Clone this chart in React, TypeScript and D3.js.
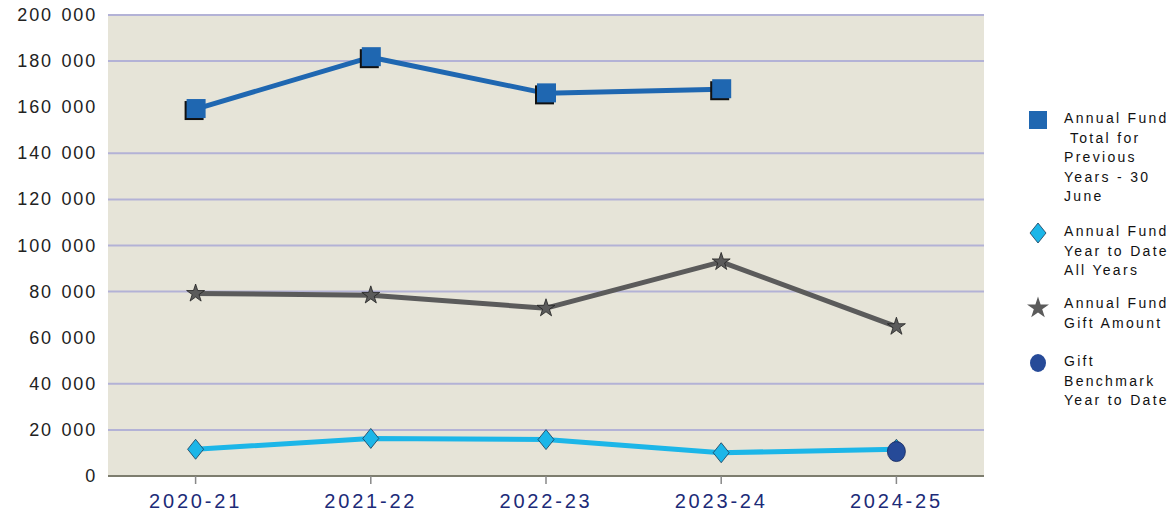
import React, { useEffect, useRef } from "react";
import * as d3 from "d3";

const years = ["2020-21", "2021-22", "2022-23", "2023-24", "2024-25"];
const totalPrevYears = [159200, 181700, 166000, 167800, null];
const ytdAllYears = [11600, 16300, 15800, 10100, 11600];
const giftAmount = [79200, 78400, 72800, 92900, 64800];
const giftBenchmark = [null, null, null, null, 10600];
const yTicks = [0, 20000, 40000, 60000, 80000, 100000, 120000, 140000, 160000, 180000, 200000];
const hiddenGrid = [60000, 160000];

const legendItems = [
  { key: "sq", color: "#1f67b1", lines: ["Annual Fund", " Total for", "Previous", "Years - 30", "June"] },
  { key: "di", color: "#1cb6e8", lines: ["Annual Fund", "Year to Date", "All Years"] },
  { key: "st", color: "#5b5b5b", lines: ["Annual Fund", "Gift Amount"] },
  { key: "ci", color: "#264a98", lines: ["Gift", "Benchmark", "Year to Date"] },
];

const W = 1172;
const H = 512;
const margin = { top: 15, right: 188, bottom: 36, left: 108 };

export default function App() {
  const ref = useRef<SVGSVGElement>(null);

  useEffect(() => {
    const svg = d3.select(ref.current);
    svg.selectAll("*").remove();

    const x = d3.scaleBand().domain(years).range([margin.left, W - margin.right]);
    const y = d3.scaleLinear().domain([0, 200000]).range([H - margin.bottom, margin.top]);
    const cx = (d: string) => (x(d) as number) + x.bandwidth() / 2;

    // plot background
    svg.append("rect")
      .attr("x", margin.left).attr("y", margin.top)
      .attr("width", W - margin.left - margin.right)
      .attr("height", y(0) - margin.top)
      .attr("fill", "#e6e4d8");

    // grid
    svg.append("g").selectAll("line")
      .data(yTicks.filter(t => t > 0 && !hiddenGrid.includes(t)))
      .join("line")
      .attr("x1", margin.left).attr("x2", W - margin.right)
      .attr("y1", d => y(d)).attr("y2", d => y(d))
      .attr("stroke", "#b3b2d6").attr("stroke-width", 2);

    // y labels
    svg.append("g").selectAll("text")
      .data(yTicks)
      .join("text")
      .attr("x", 97).attr("y", d => y(d))
      .attr("text-anchor", "end").attr("dominant-baseline", "central")
      .attr("font-family", "Liberation Sans, Arial, sans-serif")
      .attr("font-size", 18).attr("fill", "#222")
      .attr("letter-spacing", 1.8)
      .attr("word-spacing", 2)
      .text(d => d3.format(",")(d).replace(/,/g, " "));

    // x axis
    svg.append("line")
      .attr("x1", margin.left).attr("x2", W - margin.right)
      .attr("y1", y(0)).attr("y2", y(0))
      .attr("stroke", "#7d7d6e").attr("stroke-width", 2);
    svg.append("g").selectAll("line")
      .data(years).join("line")
      .attr("x1", cx).attr("x2", cx)
      .attr("y1", y(0)).attr("y2", y(0) + 8)
      .attr("stroke", "#888").attr("stroke-width", 1.5);
    svg.append("g").selectAll("text")
      .data(years).join("text")
      .attr("x", cx).attr("y", 508)
      .attr("text-anchor", "middle")
      .attr("font-family", "Liberation Sans, Arial, sans-serif")
      .attr("font-size", 20).attr("fill", "#1c2b78")
      .attr("letter-spacing", 2.8)
      .text(d => d);

    const line = d3.line<number | null>()
      .defined(d => d != null)
      .x((_, i) => cx(years[i]))
      .y(d => y(d as number));

    const drawLine = (vals: (number | null)[], color: string, w: number) =>
      svg.append("path").datum(vals).attr("d", line)
        .attr("fill", "none").attr("stroke", color)
        .attr("stroke-width", w).attr("stroke-linejoin", "round");

    const pts = (vals: (number | null)[]) =>
      vals.map((v, i) => ({ v, x: cx(years[i]) })).filter(p => p.v != null) as { v: number; x: number }[];

    // markers
    const square = (g: any, px: number, py: number, color: string) => {
      g.append("rect").attr("x", px - 11).attr("y", py - 8).attr("width", 19).attr("height", 19).attr("fill", "#111");
      g.append("rect").attr("x", px - 9).attr("y", py - 10).attr("width", 19).attr("height", 19).attr("fill", color);
    };
    const diamond = (g: any, px: number, py: number, color: string) => {
      g.append("path")
        .attr("d", `M${px},${py - 10}L${px + 8},${py}L${px},${py + 10}L${px - 8},${py}Z`)
        .attr("fill", color).attr("stroke", "#1a3a55").attr("stroke-width", 0.8);
    };
    const star = (g: any, px: number, py: number, color: string) => {
      g.append("path")
        .attr("d", d3.symbol().type(d3.symbolStar).size(100)())
        .attr("transform", `translate(${px},${py})`)
        .attr("fill", color).attr("stroke", "#222").attr("stroke-width", 0.8);
    };
    const circle = (g: any, px: number, py: number, color: string) => {
      g.append("ellipse").attr("cx", px).attr("cy", py).attr("rx", 9).attr("ry", 10)
        .attr("fill", color).attr("stroke", "#13245a").attr("stroke-width", 0.8);
    };

    drawLine(giftAmount, "#5b5b5b", 5);
    const gs = svg.append("g");
    pts(giftAmount).forEach(p => star(gs, p.x, y(p.v), "#5b5b5b"));

    drawLine(ytdAllYears, "#1cb6e8", 5);
    const gd = svg.append("g");
    pts(ytdAllYears).forEach(p => diamond(gd, p.x, y(p.v), "#1cb6e8"));

    const gc = svg.append("g");
    pts(giftBenchmark).forEach(p => circle(gc, p.x, y(p.v), "#264a98"));

    drawLine(totalPrevYears, "#1f67b1", 5);
    const gq = svg.append("g");
    pts(totalPrevYears).forEach(p => square(gq, p.x, y(p.v), "#1f67b1"));

    // legend
    const legendTop = [118, 231, 303, 361];
    const lg = svg.append("g");
    legendItems.forEach((it, i) => {
      const ty = legendTop[i];
      const mx = 1038;
      if (it.key === "sq") {
        lg.append("rect").attr("x", mx - 9).attr("y", ty - 7).attr("width", 18).attr("height", 18).attr("fill", it.color);
      } else if (it.key === "di") diamond(lg, mx, ty + 2, it.color);
      else if (it.key === "st") {
        lg.append("path").attr("d", d3.symbol().type(d3.symbolStar).size(150)())
          .attr("transform", `translate(${mx},${ty + 5})`).attr("fill", it.color);
      } else {
        lg.append("ellipse").attr("cx", mx).attr("cy", ty + 2).attr("rx", 8).attr("ry", 9).attr("fill", it.color);
      }
      it.lines.forEach((t, j) => {
        lg.append("text")
          .attr("x", 1064).attr("y", ty + j * 19.5)
          .attr("dominant-baseline", "central")
          .attr("font-family", "Liberation Sans, Arial, sans-serif")
          .attr("font-size", 14).attr("fill", "#111")
          .attr("letter-spacing", 2.3)
          .style("white-space", "pre")
          .text(t);
      });
    });
  }, []);

  return <svg ref={ref} width={W} height={H} style={{ display: "block", position: "absolute", left: 0, top: 0 }} />;
}
